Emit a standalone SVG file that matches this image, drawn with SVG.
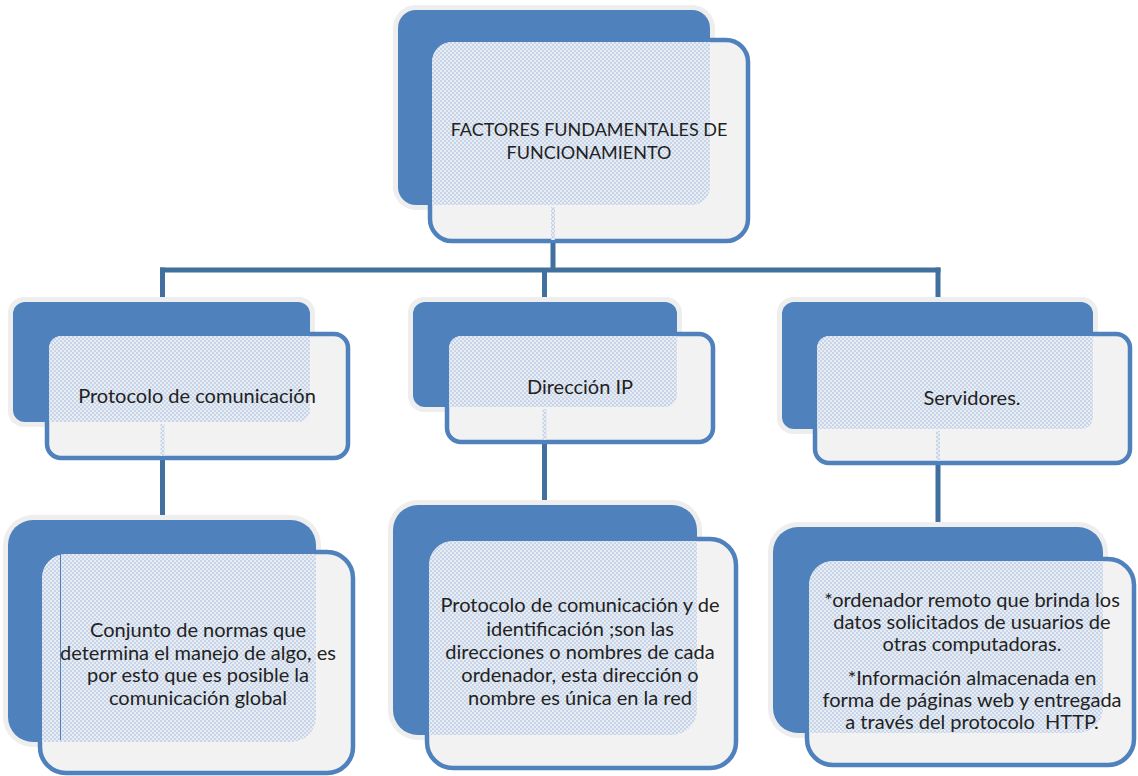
<svg xmlns="http://www.w3.org/2000/svg" width="1138" height="776" viewBox="0 0 1138 776">
  <style>
    .halo { fill: #eeeeee; }
    .back { fill: #4f81bd; }
    .front { fill: #f2f2f2; stroke: #4f81bd; stroke-width: 4.5; }
    .tint { fill: url(#dots); }
    .seep { fill: url(#dots); }
    .wire { stroke: #41709f; stroke-width: 5; fill: none; stroke-linecap: butt; }
    .label { font-family: Lato, "Liberation Sans", sans-serif; fill: #222222; text-anchor: middle; white-space: pre; }
    .t0 { font-size: 18px; }
    .t1 { font-size: 20px; }
    .t2 { font-size: 20px; }
  </style>
  <defs>
    <!-- fine blue screen used where the back card shows through the front card -->
    <pattern id="dots" width="4" height="4" patternUnits="userSpaceOnUse">
      <rect width="4" height="4" fill="#e8edf4"/>
      <rect width="2" height="2" fill="#c8d5e8"/>
      <rect x="2" y="2" width="2" height="2" fill="#c8d5e8"/>
    </pattern>
    <clipPath id="c-top"><rect x="432" y="42" width="314" height="197" rx="20"/></clipPath>
    <clipPath id="c-a1"><rect x="49" y="336" width="297" height="120" rx="12"/></clipPath>
    <clipPath id="c-b1"><rect x="449" y="336" width="262" height="104" rx="12"/></clipPath>
    <clipPath id="c-c1"><rect x="817" y="336" width="311" height="125" rx="12"/></clipPath>
    <clipPath id="c-a2"><rect x="42" y="554" width="309" height="217" rx="24"/></clipPath>
    <clipPath id="c-b2"><rect x="429" y="541" width="305" height="225" rx="24"/></clipPath>
    <clipPath id="c-c2"><rect x="809" y="561" width="323" height="202" rx="24"/></clipPath>
  </defs>

  <!-- connectors -->
  <g id="connectors">
    <line class="wire" x1="553" y1="240" x2="553" y2="272"/>
    <line class="wire" x1="160" y1="270" x2="940.5" y2="270"/>
    <line class="wire" x1="162.5" y1="267.5" x2="162.5" y2="300"/>
    <line class="wire" x1="544.5" y1="270" x2="544.5" y2="300"/>
    <line class="wire" x1="938" y1="267.5" x2="938" y2="300"/>
    <line class="wire" x1="162.5" y1="458" x2="162.5" y2="518"/>
    <line class="wire" x1="544.5" y1="442" x2="544.5" y2="503"/>
    <line class="wire" x1="938" y1="463" x2="938" y2="525"/>
  </g>

  <!-- root -->
  <g id="node-top">
    <rect class="halo" x="393" y="5" width="322" height="205" rx="23"/>
    <rect class="back" x="398" y="10" width="312" height="195" rx="18"/>
    <rect class="front" x="430" y="40" width="318" height="201" rx="22"/>
    <rect class="tint" x="398" y="10" width="312" height="195" rx="18" clip-path="url(#c-top)"/>
    <rect class="seep" x="551" y="207" width="4" height="33"/>
    <text class="label t0" x="589" y="136">FACTORES FUNDAMENTALES DE</text>
    <text class="label t0" x="589" y="159">FUNCIONAMIENTO</text>
  </g>

  <!-- second level -->
  <g id="node-protocolo">
    <rect class="halo" x="8" y="297" width="307" height="130" rx="16"/>
    <rect class="back" x="13" y="302" width="297" height="120" rx="12"/>
    <rect class="front" x="47" y="334" width="301" height="124" rx="14"/>
    <rect class="tint" x="13" y="302" width="297" height="120" rx="12" clip-path="url(#c-a1)"/>
    <rect class="seep" x="160.5" y="424" width="4" height="32"/>
    <text class="label t1" x="197" y="403">Protocolo de comunicación</text>
  </g>

  <g id="node-ip">
    <rect class="halo" x="408" y="297" width="274" height="115" rx="16"/>
    <rect class="back" x="413" y="302" width="264" height="105" rx="12"/>
    <rect class="front" x="447" y="334" width="266" height="108" rx="14"/>
    <rect class="tint" x="413" y="302" width="264" height="105" rx="12" clip-path="url(#c-b1)"/>
    <rect class="seep" x="542.5" y="409" width="4" height="31"/>
    <text class="label t1" x="580" y="394">Dirección IP</text>
  </g>

  <g id="node-servidores">
    <rect class="halo" x="777" y="297" width="321" height="137" rx="16"/>
    <rect class="back" x="782" y="302" width="311" height="127" rx="12"/>
    <rect class="front" x="815" y="334" width="315" height="129" rx="14"/>
    <rect class="tint" x="782" y="302" width="311" height="127" rx="12" clip-path="url(#c-c1)"/>
    <rect class="seep" x="936" y="431" width="4" height="30"/>
    <text class="label t1" x="972" y="405">Servidores.</text>
  </g>

  <!-- third level -->
  <g id="node-protocolo-desc">
    <rect class="halo" x="3" y="515" width="318" height="232" rx="30"/>
    <rect class="back" x="8" y="520" width="308" height="222" rx="25"/>
    <rect class="front" x="40" y="552" width="313" height="221" rx="26"/>
    <rect class="tint" x="8" y="520" width="308" height="222" rx="25" clip-path="url(#c-a2)"/>
    <line x1="60.5" y1="553" x2="60.5" y2="740" stroke="#4f81bd" stroke-width="1"/>
    <text class="label t2" x="198" y="637">Conjunto de normas que</text>
    <text class="label t2" x="198" y="659.5">determina el manejo de algo, es</text>
    <text class="label t2" x="198" y="682">por esto que es posible la</text>
    <text class="label t2" x="198" y="704.5">comunicación global</text>
  </g>

  <g id="node-ip-desc">
    <rect class="halo" x="388" y="500" width="314" height="240" rx="30"/>
    <rect class="back" x="393" y="505" width="304" height="230" rx="25"/>
    <rect class="front" x="427" y="539" width="309" height="229" rx="26"/>
    <rect class="tint" x="393" y="505" width="304" height="230" rx="25" clip-path="url(#c-b2)"/>
    <text class="label t2" x="580" y="612">Protocolo de comunicación y de</text>
    <text class="label t2" x="580" y="635.5">identificación ;son las</text>
    <text class="label t2" x="580" y="659">direcciones o nombres de cada</text>
    <text class="label t2" x="580" y="682">ordenador, esta dirección o</text>
    <text class="label t2" x="580" y="705">nombre es única en la red</text>
  </g>

  <g id="node-servidores-desc">
    <rect class="halo" x="768" y="522" width="340" height="216" rx="30"/>
    <rect class="back" x="773" y="527" width="330" height="206" rx="25"/>
    <rect class="front" x="807" y="559" width="327" height="206" rx="26"/>
    <rect class="tint" x="773" y="527" width="330" height="206" rx="25" clip-path="url(#c-c2)"/>
    <text class="label t2" x="972" y="607">*ordenador remoto que brinda los</text>
    <text class="label t2" x="972" y="629">datos solicitados de usuarios de</text>
    <text class="label t2" x="972" y="651">otras computadoras.</text>
    <text class="label t2" x="972" y="685">*Información almacenada en</text>
    <text class="label t2" x="972" y="707">forma de páginas web y entregada</text>
    <text class="label t2" x="972" y="729">a través del protocolo  HTTP.</text>
  </g>
</svg>
